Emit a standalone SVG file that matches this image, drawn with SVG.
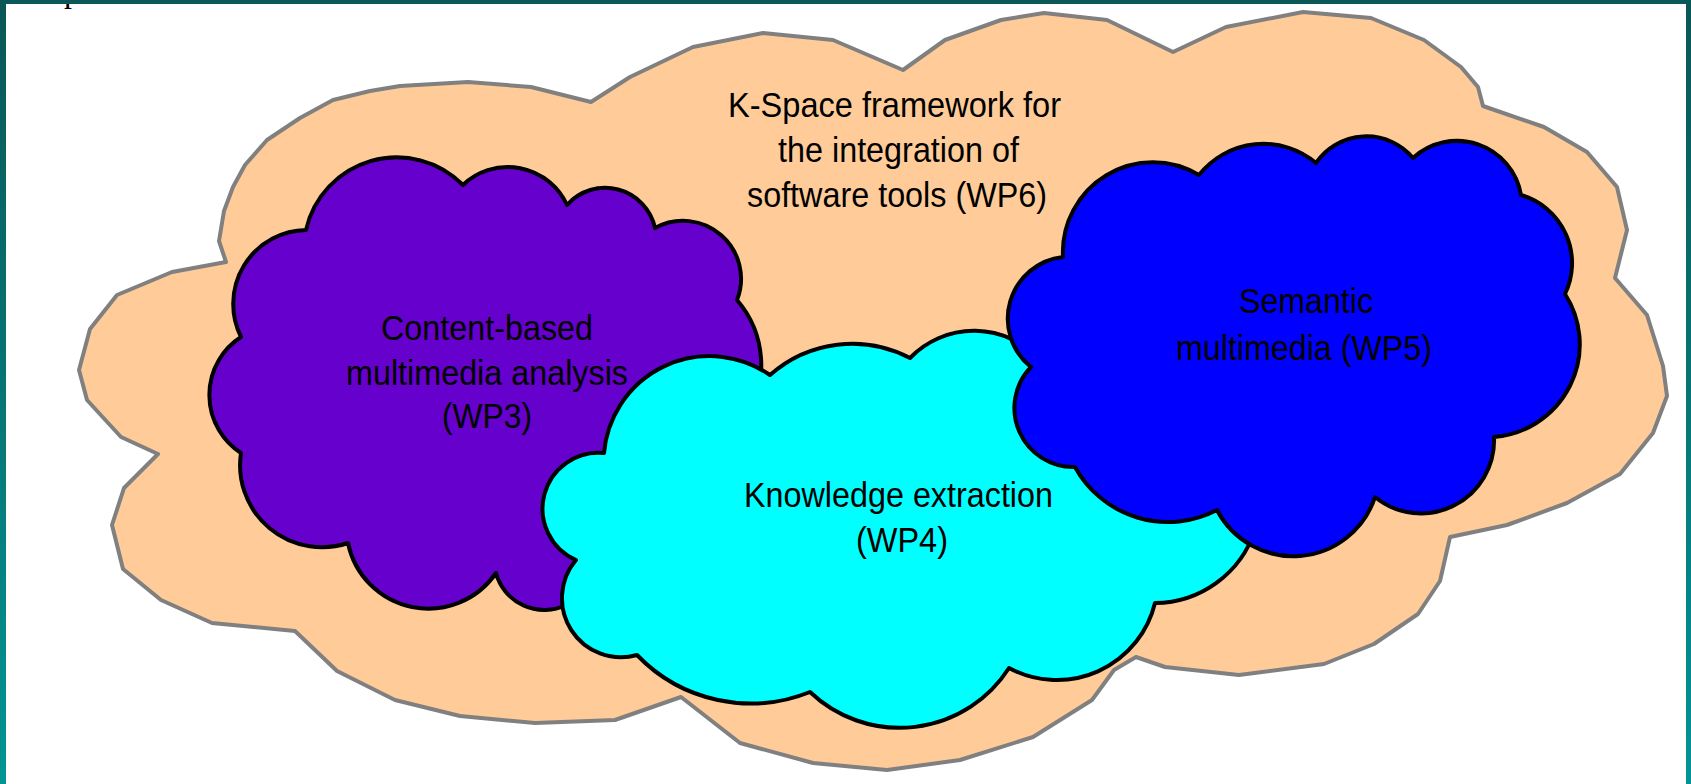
<svg xmlns="http://www.w3.org/2000/svg" width="1691" height="784" viewBox="0 0 1691 784">
  <defs>
    <linearGradient id="edgeShade" x1="0" y1="0" x2="0" y2="1">
      <stop offset="0" stop-color="#0b5656"/>
      <stop offset="1" stop-color="#029494"/>
    </linearGradient>
  </defs>
  <style>
    .label { font-family: "Liberation Sans", Arial, sans-serif; font-size: 35px; fill: #000000; }
    .outer { fill: #ffcc99; stroke: #808080; stroke-width: 4; stroke-linejoin: round; }
    .inner { stroke: #000000; stroke-width: 4; stroke-linejoin: round; }
  </style>

  <!-- page background -->
  <rect x="0" y="0" width="1691" height="784" fill="#ffffff"/>

  <!-- tail of the heading letter above the figure -->
  <text x="64" y="2" font-family="'Liberation Serif', 'Times New Roman', serif" font-size="32" fill="#000000">p</text>

  <!-- WP6: framework cloud enclosing the others -->
  <g id="wp6">
    <path class="outer" d="M 295 631 L 212 623 L 161 600 L 123 569 L 112 525 L 124 488 L 158 454 L 121 437 L 87 400 L 79 370 L 90 329 L 117 295 L 172 272 L 226 262 L 219 241 L 224 211 L 233 187 L 245 165 L 267 140 L 300 118 L 333 100 L 370 91 L 400 86 L 468 82 L 531 87 L 591 102 L 630 77 L 693 47 L 763 33 L 833 40 L 903 70 L 945 40 L 1001 20 L 1044 13 L 1107 20 L 1173 52 L 1226 27 L 1303 12 L 1371 18 L 1424 40 L 1461 67 L 1478 87 L 1483 106 L 1544 127 L 1587 152 L 1617 187 L 1627 230 L 1615 278 L 1647 315 L 1663 366 L 1667 396 L 1653 433 L 1620 474 L 1567 503 L 1507 525 L 1450 537 L 1440 581 L 1418 614 L 1374 644 L 1324 664 L 1239 675 L 1165 667 L 1136 657 L 1114 670 L 1092 700 L 1033 737 L 960 760 L 887 770 L 813 763 L 740 743 L 681 697 L 615 720 L 535 723 L 460 716 L 395 700 L 337 671 Z"/>
    <text class="label" x="728" y="117" textLength="333" lengthAdjust="spacingAndGlyphs">K-Space framework for</text>
    <text class="label" x="778" y="162" textLength="241" lengthAdjust="spacingAndGlyphs">the integration of</text>
    <text class="label" x="747" y="207" textLength="300" lengthAdjust="spacingAndGlyphs">software tools (WP6)</text>
  </g>

  <!-- WP3: content-based analysis -->
  <g id="wp3">
    <path class="inner" fill="#6600cc" d="M 306 230 A 93 93 0 0 1 463 185 A 65 65 0 0 1 567 205 A 51 51 0 0 1 655 228 A 58 58 0 0 1 737 300 A 100 100 0 0 1 745 420 L 700 495 L 600 598 L 566 605 A 50 50 0 0 1 496 573 A 82 82 0 0 1 348 543 A 82 82 0 0 1 241 453 A 69 69 0 0 1 241 337 A 74 74 0 0 1 306 230 Z"/>
    <text class="label" x="381" y="340" textLength="212" lengthAdjust="spacingAndGlyphs">Content-based</text>
    <text class="label" x="346" y="385" textLength="282" lengthAdjust="spacingAndGlyphs">multimedia analysis</text>
    <text class="label" x="442" y="428" textLength="90" lengthAdjust="spacingAndGlyphs">(WP3)</text>
  </g>

  <!-- WP4: knowledge extraction -->
  <g id="wp4">
    <path class="inner" fill="#00ffff" d="M 770 375 A 124 124 0 0 1 910 358 A 89 89 0 0 1 1040 360 L 1200 450 L 1255 530 A 106 106 0 0 1 1155 603 A 101 101 0 0 1 1009 668 A 130 130 0 0 1 810 692 A 158 158 0 0 1 637 655 A 59 59 0 0 1 576 560 A 56 56 0 0 1 604 453 A 106 106 0 0 1 770 375 Z"/>
    <text class="label" x="744" y="507" textLength="309" lengthAdjust="spacingAndGlyphs">Knowledge extraction</text>
    <text class="label" x="856" y="552" textLength="92" lengthAdjust="spacingAndGlyphs">(WP4)</text>
  </g>

  <!-- WP5: semantic multimedia -->
  <g id="wp5">
    <path class="inner" fill="#0000ff" d="M 1063 257 A 90 90 0 0 1 1199 175 A 82 82 0 0 1 1316 163 A 61 61 0 0 1 1413 158 A 65 65 0 0 1 1521 195 A 71 71 0 0 1 1565 294 A 93 93 0 0 1 1494 437 A 73 73 0 0 1 1375 497 A 86 86 0 0 1 1217 510 A 106 106 0 0 1 1075 467 A 59 59 0 0 1 1031 367 A 62 62 0 0 1 1063 257 Z"/>
    <text class="label" x="1239" y="313" textLength="134" lengthAdjust="spacingAndGlyphs">Semantic</text>
    <text class="label" x="1176" y="360" textLength="256" lengthAdjust="spacingAndGlyphs">multimedia (WP5)</text>
  </g>

  <!-- no connectors in this figure -->
  <g id="connectors"></g>

  <!-- slide frame -->
  <g id="frame">
    <rect x="0" y="0" width="1691" height="4" fill="#0a5858"/>
    <rect x="0" y="0" width="6" height="784" fill="url(#edgeShade)"/>
    <rect x="1686" y="0" width="5" height="784" fill="url(#edgeShade)"/>
  </g>
</svg>
